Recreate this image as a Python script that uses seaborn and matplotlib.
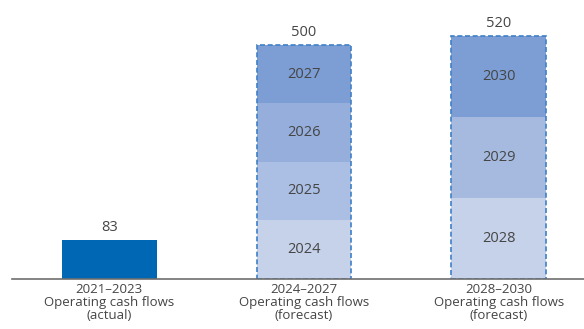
import matplotlib
matplotlib.use("Agg")
import matplotlib.pyplot as plt
import seaborn as sns
import pandas as pd

# ---- data ----
categories = ["2021–2023\nOperating cash flows\n(actual)",
              "2024–2027\nOperating cash flows\n(forecast)",
              "2028–2030\nOperating cash flows\n(forecast)"]
actual_value = [83]
forecast1_years = ["2024", "2025", "2026", "2027"]
forecast1_values = [125, 125, 125, 125]
forecast2_years = ["2028", "2029", "2030"]
forecast2_values = [173, 173, 174]
totals = [83, 500, 520]

# ---- styles ----
actual_color = "#0067B4"
seg_colors_4 = ["#C6D2EA", "#ABBEE3", "#95AEDB", "#7D9ED4"]
seg_colors_3 = ["#C6D2EA", "#A6BAE0", "#7D9ED4"]
edge_color = "#3F80C6"
text_color = "#454545"
font = "Open Sans"

sns.set_theme(style="white")
plt.rcParams["font.family"] = [font, "DejaVu Sans"]

fig = plt.figure(figsize=(5.84, 3.29), dpi=100)
ax = fig.add_axes([12 / 584, 1 - 278.5 / 329, 1.0, 278.5 / 329])

W = 0.485

# actual bar
sns.barplot(x=[categories[0]], y=actual_value, order=categories, color=actual_color,
            saturation=1, width=W, errorbar=None, ax=ax, linewidth=0)

def stacked(cat, years, values, colors):
    bottom = 0
    for yr, v, c in zip(years, values, colors):
        sns.barplot(x=[cat], y=[v], order=categories, color=c, saturation=1, width=W,
                    errorbar=None, ax=ax, linewidth=0, bottom=bottom)
        ax.text(categories.index(cat), bottom + v / 2, yr, ha="center", va="center",
                fontsize=10.5, color=text_color)
        bottom += v

stacked(categories[1], forecast1_years, forecast1_values, seg_colors_4)
stacked(categories[2], forecast2_years, forecast2_values, seg_colors_3)

# dashed outlines around forecast stacks
n_before = len(ax.patches)
sns.barplot(x=categories[1:], y=totals[1:], order=categories, fill=False, color=edge_color,
            saturation=1, width=W, errorbar=None, ax=ax, linewidth=1.2)
for p in ax.patches[n_before:]:
    p.set_linestyle((0, (3, 1.6)))
    p.set_edgecolor(edge_color)

# total labels
for i, t in enumerate(totals):
    ax.text(i, t + 10, f"{t}", ha="center", va="bottom", fontsize=10.5, color=text_color)

ax.set_xlim(-0.5, 2.5)
ax.set_ylim(0, 596)
ax.set_xlabel("")
ax.set_ylabel("")
ax.set_yticks([])
for s in ["top", "right", "left"]:
    ax.spines[s].set_visible(False)
ax.spines["bottom"].set_color("#6E6E6E")
ax.spines["bottom"].set_linewidth(1.2)
ax.tick_params(axis="x", length=0, pad=3, labelsize=9.5, labelcolor=text_color)
for lbl in ax.get_xticklabels():
    lbl.set_linespacing(1.0)

fig.savefig("out.png", dpi=100)
